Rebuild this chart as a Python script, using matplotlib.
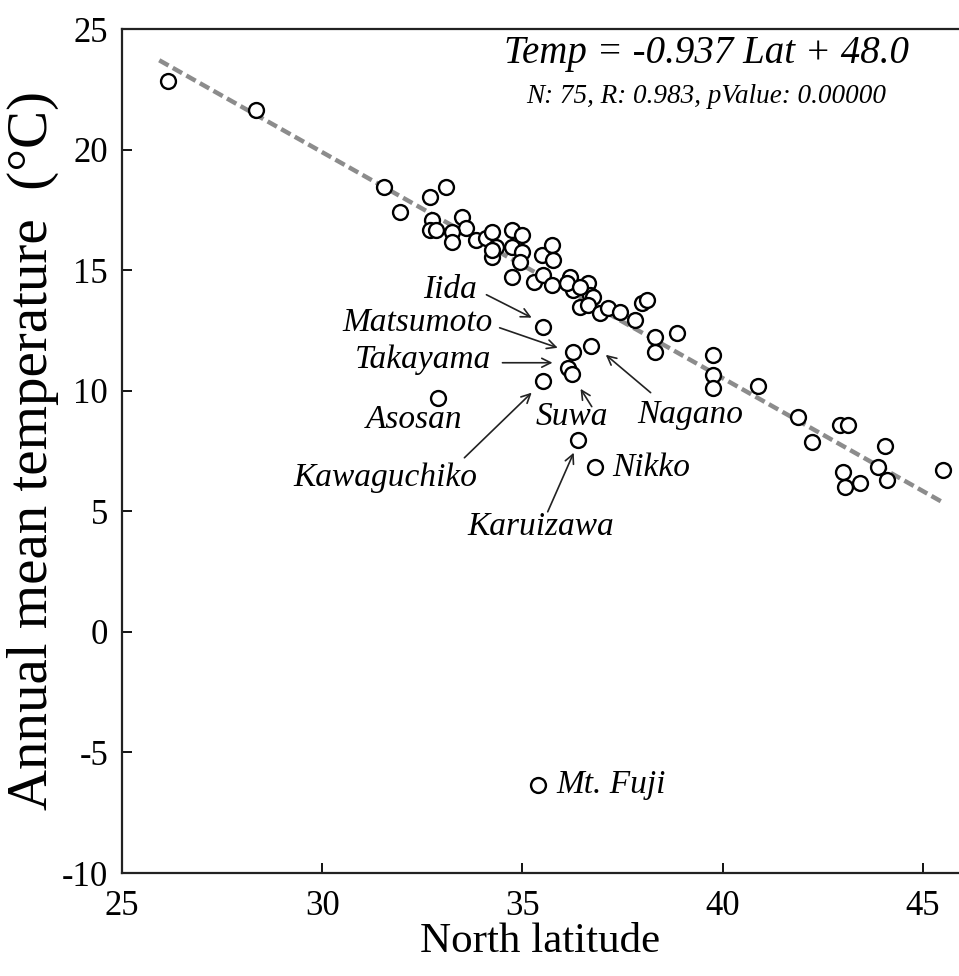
import matplotlib
matplotlib.use("Agg")
import matplotlib.pyplot as plt
import numpy as np

plt.rcParams['font.family'] = ['Liberation Serif', 'DejaVu Serif']
plt.rcParams['axes.unicode_minus'] = False

# ---- data: (north latitude, annual mean temperature) ----
lat = [26.15, 28.35, 31.53, 31.93, 32.70, 33.10, 32.73, 32.68, 32.85, 33.48,
       33.60, 33.25, 33.23, 33.85, 34.10, 34.25, 34.73, 35.00, 34.35, 34.73,
       34.23, 35.00, 34.93, 34.73, 35.30, 35.48, 35.73, 35.75, 35.50, 35.73,
       36.18, 36.25, 36.10, 36.63, 36.68, 36.75, 36.43, 36.63, 36.93, 37.13,
       37.43, 37.80, 37.98, 38.10, 38.30, 38.30, 38.85, 39.75, 39.75, 39.75,
       40.88, 41.88, 42.23, 42.93, 43.13, 44.05, 43.00, 43.05, 43.43, 43.88,
       44.10, 45.50, 36.43, 34.23]
temp = [22.86, 21.66, 18.46, 17.43, 18.05, 18.46, 17.10, 16.68, 16.68, 17.22,
        16.76, 16.60, 16.18, 16.27, 16.35, 16.60, 16.68, 16.47, 15.98, 15.98,
        15.56, 15.77, 15.35, 14.73, 14.52, 15.64, 16.06, 15.44, 14.81, 14.40,
        14.73, 14.19, 14.48, 14.48, 13.98, 13.90, 13.49, 13.57, 13.24, 13.44,
        13.28, 12.95, 13.65, 13.78, 12.24, 11.62, 12.41, 11.49, 10.66, 10.12,
        10.21, 8.92, 7.88, 8.59, 8.59, 7.72, 6.64, 6.02, 6.18, 6.85,
        6.31, 6.72, 14.32, 15.85]

# named stations
station_names = ["Iida", "Matsumoto", "Nagano", "Takayama", "Suwa",
                 "Kawaguchiko", "Asosan", "Karuizawa", "Nikko", "Mt. Fuji"]
station_lat = [35.50, 36.25, 36.70, 36.13, 36.23, 35.50, 32.88, 36.38, 36.80, 35.40]
station_temp = [12.66, 11.62, 11.87, 10.95, 10.71, 10.41, 9.71, 7.97, 6.85, -6.35]

# regression
slope = -0.937
intercept = 48.0
fit_range = [25.93, 45.55]

x_ticks = [25, 30, 35, 40, 45]
y_ticks = [-10, -5, 0, 5, 10, 15, 20, 25]

# ---- figure ----
fig = plt.figure(figsize=(9.59, 9.76), dpi=100)
ax = fig.add_axes([122/959, 103/976, (959-122)/959, 844/976])

xf = np.array(fit_range)
ax.plot(xf, slope*xf + intercept, color='#8c8c8c', lw=3.2,
        linestyle=(0, (2.4, 1.1)), zorder=1)

all_lat = lat + station_lat
all_temp = temp + station_temp
ax.scatter(all_lat, all_temp, s=115, facecolors='white', edgecolors='black',
           linewidths=1.7, zorder=3)

ax.set_xlim(25, 45.9)
ax.set_ylim(-10, 25)
ax.set_xticks(x_ticks)
ax.set_yticks(y_ticks)
ax.tick_params(direction='in', length=7, width=1.3, labelsize=25)
ax.tick_params(axis='x', pad=12)
ax.tick_params(axis='y', pad=10)
for s in ['left', 'bottom', 'top']:
    ax.spines[s].set_linewidth(1.6)
    ax.spines[s].set_color('#222222')
ax.spines['right'].set_visible(False)

ax.set_xlabel("North latitude", fontsize=31, labelpad=0)
ax.set_ylabel("Annual mean temperature  (°C)", fontsize=41, labelpad=2)

# equation text
ax.text(39.6, 24.0, "Temp = -0.937 Lat + 48.0", fontsize=28, style='italic',
        ha='center', va='center')
ax.text(39.6, 22.2, "N: 75, R: 0.983, pValue: 0.00000", fontsize=19.5,
        style='italic', ha='center', va='center')

# station labels: (text x, text y, ha)
label_pos = {
    "Iida": (33.875, 14.19, 'right'),
    "Matsumoto": (34.25, 12.82, 'right'),
    "Takayama": (34.23, 11.29, 'right'),
    "Asosan": (32.3, 8.80, 'center'),
    "Kawaguchiko": (33.88, 6.39, 'right'),
    "Suwa": (36.23, 8.92, 'center'),
    "Nagano": (39.2, 9.0, 'center'),
    "Nikko": (37.23, 6.80, 'left'),
    "Karuizawa": (35.45, 4.36, 'center'),
    "Mt. Fuji": (35.85, -6.35, 'left'),
}
for name, (tx, ty, ha) in label_pos.items():
    ax.text(tx, ty, name, fontsize=24, style='italic', ha=ha, va='center')

# arrows: name -> (tail, tip)
arrow_pos = {
    "Iida": ((34.10, 13.98), (35.23, 13.03)),
    "Matsumoto": ((34.43, 12.61), (35.88, 11.78)),
    "Takayama": ((34.50, 11.16), (35.75, 11.16)),
    "Kawaguchiko": ((33.55, 7.22), (35.23, 9.92)),
    "Suwa": ((36.73, 9.34), (36.45, 10.08)),
    "Nagano": ((38.20, 9.92), (37.08, 11.49)),
    "Karuizawa": ((35.63, 4.98), (36.28, 7.43)),
}
for name, (tail, tip) in arrow_pos.items():
    ax.annotate('', xy=tip, xytext=tail,
                arrowprops=dict(arrowstyle='->', lw=1.2, color='#222222',
                                mutation_scale=16, shrinkA=0, shrinkB=0))

fig.savefig("out.png", dpi=100)
